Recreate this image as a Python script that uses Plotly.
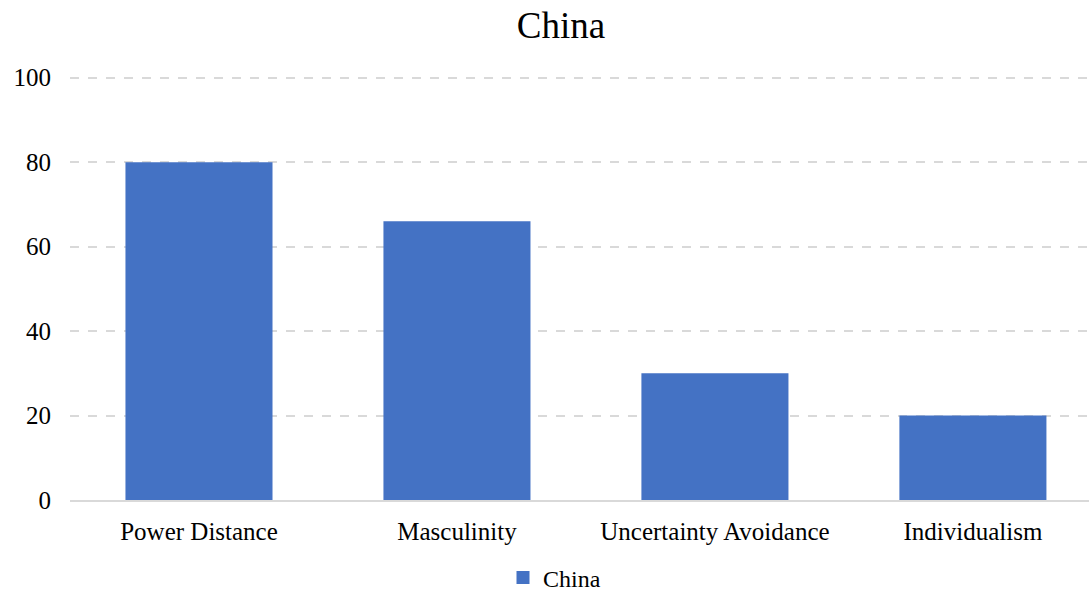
import plotly.graph_objects as go

categories = ["Power Distance", "Masculinity", "Uncertainty Avoidance", "Individualism"]
values = [80, 66, 30, 20]
series_name = "China"
y_ticks = [0, 20, 40, 60, 80, 100]

font_family = "Liberation Serif, Times New Roman, serif"
bar_color = "#4472C4"

fig = go.Figure()
fig.add_trace(go.Bar(x=categories, y=values, name=series_name, showlegend=False,
                     marker=dict(color=bar_color, line=dict(width=0))))
# legend entry with a larger square swatch
fig.add_trace(go.Scatter(x=[None], y=[None], mode="markers", name=series_name,
                         marker=dict(symbol="square", size=13, color=bar_color)))

fig.update_layout(
    width=1089, height=591,
    margin=dict(l=70, r=0, t=76, b=91),
    paper_bgcolor="white", plot_bgcolor="white",
    font=dict(family=font_family, color="#000000", size=25),
    title=dict(text="China", x=561 / 1089, xref="container", y=1 - 25 / 591, yref="container",
               xanchor="center", yanchor="middle",
               font=dict(family=font_family, size=37, color="#000000")),
    bargap=0.43,
    showlegend=True,
    legend=dict(orientation="h", xref="container", yref="container",
                x=503 / 1089, y=1 - 578 / 591, xanchor="left", yanchor="middle",
                itemwidth=30,
                font=dict(family=font_family, size=24, color="#000000")),
    xaxis=dict(range=[-0.5, 3.45], showgrid=False, showline=True, linecolor="#d9d9d9",
               linewidth=2, ticks="", ticklabelstandoff=8,
               tickfont=dict(family=font_family, size=25, color="#000000")),
    yaxis=dict(range=[0, 100.4], tickvals=y_ticks, showgrid=True, gridcolor="#d9d9d9",
               griddash="dash", gridwidth=2, zeroline=False, showline=False,
               ticks="", ticklabelstandoff=18,
               tickfont=dict(family=font_family, size=25, color="#000000")),
)

fig.write_html("out.html")
